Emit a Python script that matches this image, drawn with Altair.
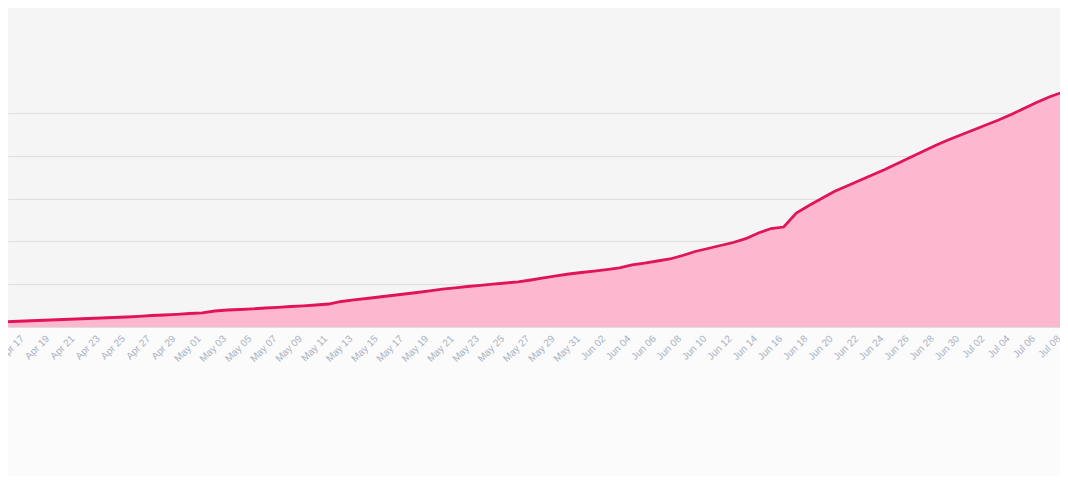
import altair as alt
import pandas as pd

start_date = "2020-04-15"
values = [117, 129, 140, 152, 164, 175, 187, 199, 210, 222,
          234, 250, 269, 280, 297, 315, 332, 374, 397, 409,
          425, 444, 460, 479, 495, 514, 537, 596, 636, 666,
          701, 736, 771, 806, 846, 883, 916, 946, 974, 1000,
          1028, 1056, 1098, 1145, 1192, 1238, 1273, 1308, 1343, 1383,
          1449, 1495, 1542, 1589, 1671, 1764, 1834, 1904, 1974, 2063,
          2196, 2301, 2336, 2664, 2839, 3002, 3166, 3294, 3423, 3551,
          3680, 3820, 3960, 4100, 4241, 4369, 4486, 4603, 4720, 4836,
          4965, 5105, 5245, 5374, 5479, 5596]
grid_values = [0, 1000, 2000, 3000, 4000, 5000]
tick_start = "2020-04-17"
tick_end = "2020-07-08"

dates = pd.date_range(start_date, periods=len(values), freq="D")
df = pd.DataFrame({"date": dates, "value": values})

tick_dates = pd.date_range(tick_start, tick_end, freq="2D")
ticks = pd.DataFrame({"date": tick_dates,
                      "label": [t.strftime("%b %d") for t in tick_dates]})

day_ms = 86400000
t0 = int(pd.Timestamp(start_date).value // 10**6)
x_dom = [t0 + int(0.633 * day_ms), t0 + int(83.86 * day_ms)]

x = alt.X("date:T", scale=alt.Scale(domain=x_dom, nice=False), axis=None)
y = alt.Y("value:Q", scale=alt.Scale(domain=[0, 7453], nice=False, zero=True),
          axis=alt.Axis(values=grid_values, labels=False, ticks=False, domain=False,
                        title=None, grid=True, gridColor="#dedede", gridWidth=1))

area = alt.Chart(df).mark_area(color="#fdb8d0", opacity=1, clip=True).encode(x=x, y=y)
line = alt.Chart(df).mark_line(color="#e1135b", strokeWidth=2.8, clip=True).encode(
    x="date:T", y="value:Q")
labels = alt.Chart(ticks).mark_text(
    angle=315, align="right", baseline="top", font="Liberation Sans",
    fontSize=10, color="#a9b1c0", clip=False, dx=-5, dy=-4
).encode(x="date:T", y=alt.value(325), text="label:N")

chart = alt.layer(area, line, labels).properties(
    width=1052, height=319,
    autosize=alt.AutoSizeParams(type="none"),
    padding={"left": 0, "top": 0, "right": 0, "bottom": 149},
    background="#fbfbfb",
).configure_view(stroke=None, fill="#f5f5f5")

chart.save("out.html", embed_options={"renderer": "svg", "actions": False})
